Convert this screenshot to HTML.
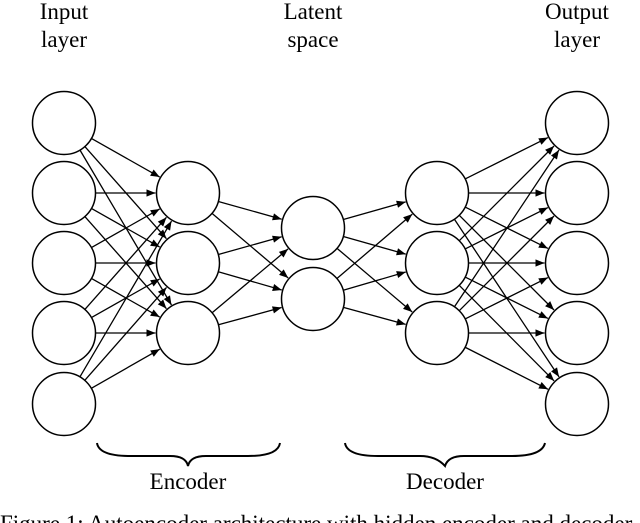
<!DOCTYPE html>
<html><head><meta charset="utf-8"><style>
html,body{margin:0;padding:0;background:#fff;width:640px;height:523px;overflow:hidden}
svg{display:block}
text{font-family:"Liberation Serif",serif;font-size:23px;fill:#000}
</style></head><body>
<svg id="s" width="640" height="523" viewBox="0 0 640 523" xmlns="http://www.w3.org/2000/svg">
<defs><marker id="a" viewBox="0 0 10 10" refX="10" refY="5" markerWidth="11" markerHeight="9" markerUnits="userSpaceOnUse" orient="auto"><path d="M0,1 L10,5 L0,9 z" fill="#000"/></marker></defs>
<g id="lines" stroke="#000" stroke-width="1.3"></g>
<g id="nodes" fill="#fff" stroke="#000" stroke-width="1.5"></g>
<text x="64" y="19" text-anchor="middle">Input</text>
<text x="64" y="47" text-anchor="middle">layer</text>
<text x="313" y="19" text-anchor="middle">Latent</text>
<text x="313" y="47" text-anchor="middle">space</text>
<text x="577" y="19" text-anchor="middle">Output</text>
<text x="577" y="47" text-anchor="middle">layer</text>
<path d="M97,443 Q99,456 130,456 L170,456 Q186,456 188,466 Q190,456 206,456 L248,456 Q278,456 280,443" fill="none" stroke="#000" stroke-width="2"/>
<path d="M345,443 Q347,456 378,456 L420,456 Q436,456 445,466 Q448,456 464,456 L512,456 Q542,456 545,443" fill="none" stroke="#000" stroke-width="2"/>
<text x="188" y="489" text-anchor="middle">Encoder</text>
<text x="445" y="489" text-anchor="middle">Decoder</text>
<text x="0" y="531">Figure 1: Autoencoder architecture with hidden encoder and decoder</text>
</svg>
<script>
var R=31.5;
var L=[[64,[123,193,263,333,404]],[188,[193,263,333]],[313,[228,299]],[437,[193,263,333]],[577,[123,193,263,333,404]]];
var ns="http://www.w3.org/2000/svg",lg=document.getElementById('lines'),ng=document.getElementById('nodes');
for(var i=0;i<L.length-1;i++){var A=L[i],B=L[i+1];
A[1].forEach(function(y1){B[1].forEach(function(y2){
var dx=B[0]-A[0],dy=y2-y1,d=Math.sqrt(dx*dx+dy*dy),ux=dx/d,uy=dy/d;
var l=document.createElementNS(ns,'line');
l.setAttribute('x1',A[0]+ux*R);l.setAttribute('y1',y1+uy*R);
l.setAttribute('x2',B[0]-ux*(R+1));l.setAttribute('y2',y2-uy*(R+1));
l.setAttribute('marker-end','url(#a)');lg.appendChild(l);});});}
L.forEach(function(c){c[1].forEach(function(y){var e=document.createElementNS(ns,'circle');
e.setAttribute('cx',c[0]);e.setAttribute('cy',y);e.setAttribute('r',R);ng.appendChild(e);});});
</script>
</body></html>
